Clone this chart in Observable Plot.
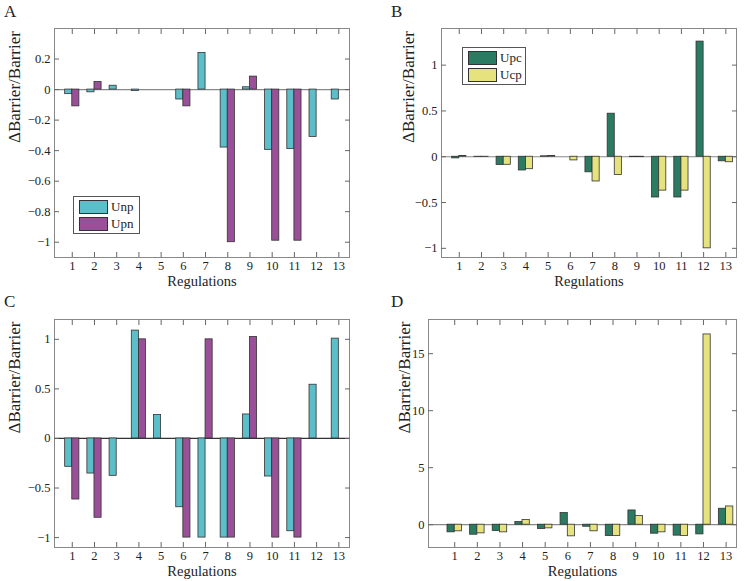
<!DOCTYPE html>
<html>
<head>
<meta charset="utf-8">
<script src="https://cdn.jsdelivr.net/npm/d3@7"></script>
<script src="https://cdn.jsdelivr.net/npm/@observablehq/plot@0.6"></script>
<style>
  body { margin: 0; background: #fff; }
  #root { position: relative; width: 750px; height: 581px; background: #fff; font-family: "Liberation Serif", "Times New Roman", serif; color: #222; }
  #root svg, #root svg text { font-family: "Liberation Serif", "Times New Roman", serif !important; }
  .panel { position: absolute; }
  .letter { position: absolute; font-size: 17px; }
  .legend { position: absolute; border: 1px solid #555; background: #fff; }
  .legend .row { position: absolute; left: 5px; display: flex; align-items: center; font-size: 13px; }
  .legend .sw { width: 27px; height: 12px; border: 1px solid #333; margin-right: 3px; }
</style>
</head>
<body>
<div id="root"></div>
<script>
// ---- data ----
const regulations = [1, 2, 3, 4, 5, 6, 7, 8, 9, 10, 11, 12, 13];

const seriesA = ["Unp", "Upn"];
const A_Unp = [-0.03, -0.018, 0.025, -0.01, 0, -0.065, 0.24, -0.38, 0.015, -0.395, -0.39, -0.31, -0.065];
const A_Upn = [-0.11, 0.05, 0, 0, 0, -0.11, 0, -1.0, 0.085, -0.99, -0.99, 0, 0];

const seriesB = ["Upc", "Ucp"];
const B_Upc = [-0.018, -0.003, -0.09, -0.15, 0.005, 0, -0.17, 0.47, -0.004, -0.445, -0.445, 1.257, -0.05];
const B_Ucp = [0.007, -0.003, -0.088, -0.136, 0.007, -0.04, -0.27, -0.2, -0.004, -0.37, -0.37, -1.0, -0.06];

const C_Unp = [-0.286, -0.354, -0.377, 1.088, 0.236, -0.694, -1.0, -1.0, 0.242, -0.384, -0.936, 0.542, 1.007];
const C_Upn = [-0.616, -0.80, 0, 1.0, 0, -1.0, 1.0, -1.0, 1.024, -1.0, -1.0, 0, 0];

const D_Upc = [-0.67, -0.88, -0.55, 0.23, -0.38, 1.02, -0.18, -1.0, 1.25, -0.79, -0.96, -0.85, 1.40];
const D_Ucp = [-0.58, -0.76, -0.67, 0.41, -0.32, -1.02, -0.58, -1.0, 0.76, -0.67, -1.0, 16.69, 1.6];

const yTicksA = [-1, -0.8, -0.6, -0.4, -0.2, 0, 0.2];
const yTicksB = [-1, -0.5, 0, 0.5, 1];
const yTicksC = [-1, -0.5, 0, 0.5, 1];
const yTicksD = [0, 5, 10, 15];

const colors = { Unp: "#5bbec8", Upn: "#9a5098", Upc: "#2b7a62", Ucp: "#e6e27d" };

// ---- drawing ----
const root = document.getElementById("root");
const fmt = d => d < 0 ? "\u2212" + String(-d) : String(d);
const half = 0.32;
const FONT = "'Liberation Serif', 'Times New Roman', serif";

function panel(o) {
  const t1 = regulations.map((r, i) => ({ reg: r, v: o.s1[i] }));
  const t2 = regulations.map((r, i) => ({ reg: r, v: o.s2[i] }));
  const svg = Plot.plot({
    width: o.w, height: o.h,
    marginLeft: o.mL, marginRight: o.mR, marginTop: o.mT, marginBottom: o.mB,
    style: { fontFamily: FONT, fontSize: "12.5px", color: "#222", background: "transparent", overflow: "visible" },
    x: { domain: o.xDomain, axis: null, label: null },
    y: { domain: o.yDomain, axis: null, label: null },
    marks: [
      Plot.ruleY([0], { stroke: o.zero, strokeWidth: 1.2 }),
      Plot.rectY(t1, { x1: d => d.reg - half, x2: d => d.reg, y: "v", fill: colors[o.names[0]], stroke: "#333", strokeWidth: 0.8 }),
      Plot.rectY(t2, { x1: d => d.reg, x2: d => d.reg + half, y: "v", fill: colors[o.names[1]], stroke: "#333", strokeWidth: 0.8 }),
      Plot.frame({ stroke: "#888" }),
      Plot.axisX({ anchor: "bottom", ticks: regulations, tickSize: 0, tickPadding: 4, tickFormat: d => String(d), fontSize: 12.5, label: null }),
      Plot.axisX({ anchor: "bottom", ticks: regulations, tickSize: -5, text: null, stroke: "#666", label: null }),
      Plot.axisX({ anchor: "top", ticks: regulations, tickSize: -5, text: null, stroke: "#666", label: null }),
      Plot.axisY({ anchor: "left", ticks: o.yTicks, tickSize: 0, tickPadding: 4, tickFormat: fmt, fontSize: 12.5, label: null }),
      Plot.axisY({ anchor: "left", ticks: o.yTicks, tickSize: -5, text: null, stroke: "#666", label: null }),
      Plot.axisY({ anchor: "right", ticks: o.yTicks, tickSize: -5, text: null, stroke: "#666", label: null }),
      Plot.text(["ΔBarrier/Barrier"], { frameAnchor: "left", dx: o.ylx, rotate: -90, fontSize: 17, fill: "#222" }),
      Plot.text(["Regulations"], { frameAnchor: "bottom", dy: o.xly, fontSize: 14.5, fill: "#222" })
    ]
  });
  const div = document.createElement("div");
  div.className = "panel";
  div.style.left = o.left + "px";
  div.style.top = o.top + "px";
  div.appendChild(svg);
  root.appendChild(div);

  const L = document.createElement("div");
  L.className = "letter";
  L.style.left = o.letter[0] + "px";
  L.style.top = o.letter[1] + "px";
  L.textContent = o.label;
  root.appendChild(L);

  if (o.legend) {
    const g = document.createElement("div");
    g.className = "legend";
    const [lx, ly, lw, lh] = o.legend;
    g.style.left = lx + "px"; g.style.top = ly + "px";
    g.style.width = lw + "px"; g.style.height = lh + "px";
    o.names.forEach((n, i) => {
      const row = document.createElement("div");
      row.className = "row";
      row.style.top = (2 + i * 16.5) + "px";
      const sw = document.createElement("div");
      sw.className = "sw";
      sw.style.background = colors[n];
      const tx = document.createElement("span");
      tx.textContent = n;
      row.appendChild(sw); row.appendChild(tx);
      g.appendChild(row);
    });
    root.appendChild(g);
  }
}

panel({ label: "A", letter: [4, 2], left: 0, top: 0, w: 375, h: 290, mL: 54, mR: 26, mT: 28, mB: 33,
  xDomain: [0.2, 13.48], yDomain: [-1.1, 0.4], yTicks: yTicksA, s1: A_Unp, s2: A_Upn, names: seriesA,
  zero: "#888", ylx: -40, xly: 28, legend: [73, 196, 65, 36] });
panel({ label: "B", letter: [391, 2], left: 375, top: 0, w: 375, h: 290, mL: 66, mR: 14, mT: 28, mB: 33,
  xDomain: [0.2, 13.48], yDomain: [-1.1, 1.4], yTicks: yTicksB, s1: B_Upc, s2: B_Ucp, names: seriesB,
  zero: "#888", ylx: -33, xly: 28, legend: [462, 47, 62, 36] });
panel({ label: "C", letter: [4, 292], left: 0, top: 290, w: 375, h: 291, mL: 54, mR: 26, mT: 29, mB: 34,
  xDomain: [0.2, 13.48], yDomain: [-1.1, 1.2], yTicks: yTicksC, s1: C_Unp, s2: C_Upn, names: seriesA,
  zero: "#333", ylx: -40, xly: 28 });
panel({ label: "D", letter: [391, 292], left: 375, top: 290, w: 375, h: 291, mL: 53, mR: 14, mT: 29, mB: 34,
  xDomain: [-0.16, 13.46], yDomain: [-2, 18], yTicks: yTicksD, s1: D_Upc, s2: D_Ucp, names: seriesB,
  zero: "#888", ylx: -24, xly: 28 });
</script>
</body>
</html>
